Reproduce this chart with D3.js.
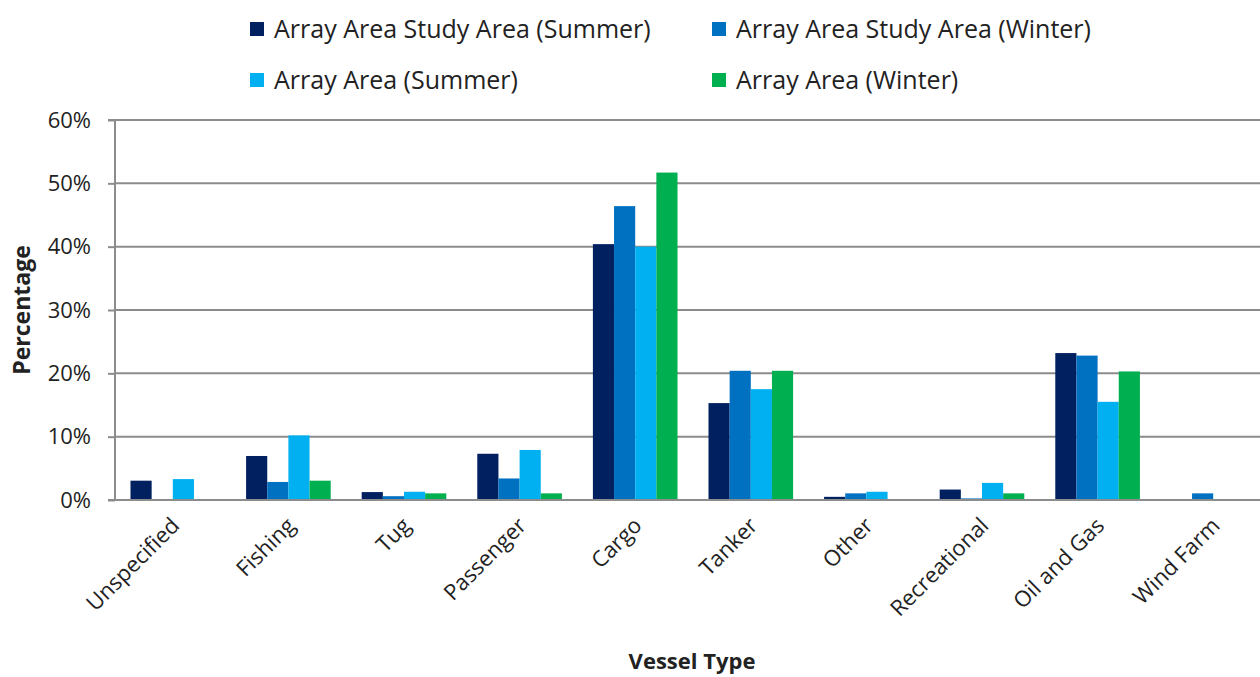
<!DOCTYPE html>
<html>
<head>
<meta charset="utf-8">
<script src="https://cdnjs.cloudflare.com/ajax/libs/d3/7.8.5/d3.min.js"></script>
<style>
  body { margin: 0; background: #fff; overflow: hidden; }
  text { font-family: "Open Sans", "Liberation Sans", sans-serif; fill: #222; }
</style>
</head>
<body>
<script>
// data
let categories = ["Unspecified", "Fishing", "Tug", "Passenger", "Cargo", "Tanker", "Other", "Recreational", "Oil and Gas", "Wind Farm"];
let seriesNames = ["Array Area Study Area (Summer)", "Array Area Study Area (Winter)", "Array Area (Summer)", "Array Area (Winter)"];
let studySummer = [3.05, 6.95, 1.25, 7.3, 40.4, 15.3, 0.5, 1.65, 23.2, 0];
let studyWinter = [0, 2.85, 0.6, 3.4, 46.4, 20.4, 1.05, 0.25, 22.8, 1.05];
let arraySummer = [3.3, 10.2, 1.3, 7.9, 40.0, 17.5, 1.3, 2.7, 15.5, 0];
let arrayWinter = [0, 3.05, 1.05, 1.05, 51.7, 20.4, 0, 1.05, 20.3, 0];
let yTicks = [0, 10, 20, 30, 40, 50, 60];
let colors = ["#002060", "#0070C0", "#00B0F0", "#00B050"];

let allSeries = [studySummer, studyWinter, arraySummer, arrayWinter];
let rows = categories.map((c, i) => ({ cat: c, vals: allSeries.map(s => s[i]) }));

let svgWidth = 1260, svgHeight = 677;
let margins = { left: 115, top: 120 };
let width = 1156;   // plot area runs a bit past the right edge, as in the source image
let height = 380;

let svg = d3.select("body").append("svg")
  .attr("width", svgWidth)
  .attr("height", svgHeight);

let container = svg.append("g")
  .attr("transform", `translate(${margins.left}, ${margins.top})`);

// scales
let xScale = d3.scaleBand()
  .domain(categories)
  .range([0, width])
  .paddingInner(0.268)
  .paddingOuter(0.134);
let xInner = d3.scaleBand()
  .domain(d3.range(seriesNames.length))
  .range([0, xScale.bandwidth()]);
let yScale = d3.scaleLinear()
  .domain([0, 60])
  .range([height, 0]);

// gridlines
container.selectAll(".grid").data(yTicks).join("line")
  .attr("class", "grid")
  .attr("x1", 0).attr("x2", width)
  .attr("y1", d => yScale(d)).attr("y2", d => yScale(d))
  .attr("stroke", "#8c8c8c")
  .attr("stroke-width", 2);

// bars
let groups = container.selectAll(".group").data(rows).join("g")
  .attr("class", "group")
  .attr("transform", d => `translate(${xScale(d.cat)}, 0)`);
groups.selectAll("rect").data(d => d.vals).join("rect")
  .attr("x", (d, i) => xInner(i))
  .attr("width", xInner.bandwidth())
  .attr("y", d => yScale(d))
  .attr("height", d => height - yScale(d))
  .attr("fill", (d, i) => colors[i]);

// y axis
let yAxis = d3.axisLeft(yScale)
  .tickValues(yTicks)
  .tickFormat(d => d + "%")
  .tickSize(7)
  .tickPadding(17);
let yAxisG = container.append("g").call(yAxis);
yAxisG.select(".domain").attr("stroke", "#8c8c8c").attr("stroke-width", 2)
  .attr("d", `M-7,0H0V${height}H-7`);
yAxisG.selectAll(".tick line").attr("stroke", "#8c8c8c").attr("stroke-width", 2);
yAxisG.selectAll(".tick text")
  .attr("font-size", 22)
  .attr("fill", "#333")
  .style("font-family", "'Open Sans', sans-serif");

// x axis baseline
container.append("line")
  .attr("x1", 0).attr("x2", width)
  .attr("y1", height).attr("y2", height)
  .attr("stroke", "#8c8c8c")
  .attr("stroke-width", 2);

// x labels
container.selectAll(".xlabel").data(categories).join("text")
  .attr("class", "xlabel")
  .attr("transform", d => `translate(${xScale(d) + xScale.bandwidth() / 2 + 8}, ${height + 27}) rotate(-45)`)
  .attr("text-anchor", "end")
  .attr("font-size", 22)
  .attr("fill", "#222")
  .text(d => d);

// axis titles
svg.append("text")
  .attr("transform", `translate(${30}, ${margins.top + height / 2}) rotate(-90)`)
  .attr("text-anchor", "middle")
  .attr("font-size", 23)
  .attr("font-weight", "bold")
  .attr("fill", "#111")
  .text("Percentage");
svg.append("text")
  .attr("x", 692).attr("y", 669)
  .attr("text-anchor", "middle")
  .attr("font-size", 22)
  .attr("font-weight", "bold")
  .attr("fill", "#111")
  .text("Vessel Type");

// legend
let legendPos = [[250, 29], [712, 29], [250, 80], [712, 80]];
let legend = svg.selectAll(".legend").data(seriesNames).join("g")
  .attr("class", "legend")
  .attr("transform", (d, i) => `translate(${legendPos[i][0]}, ${legendPos[i][1]})`);
legend.append("rect")
  .attr("x", 0).attr("y", -7)
  .attr("width", 14).attr("height", 14)
  .attr("fill", (d, i) => colors[i]);
legend.append("text")
  .attr("x", 24).attr("y", 0)
  .attr("dy", "0.35em")
  .attr("font-size", 25)
  .attr("fill", "#222")
  .text(d => d);
</script>
</body>
</html>
